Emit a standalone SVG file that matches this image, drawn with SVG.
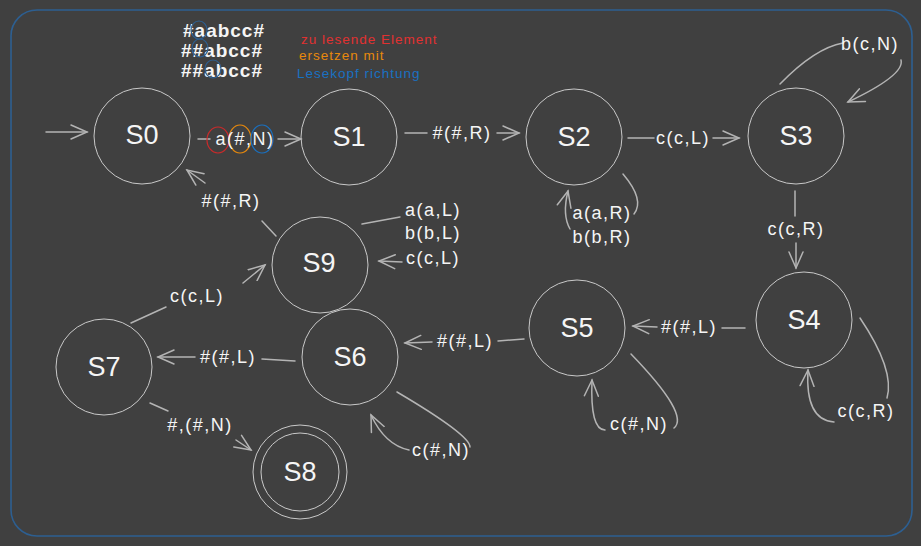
<svg xmlns="http://www.w3.org/2000/svg" width="921" height="546" viewBox="0 0 921 546">
<style>
.node{fill:none;stroke:#c9c9c9;stroke-width:1}
.nl{font-family:"Liberation Sans",Arial,sans-serif;font-size:27px;fill:#f5f5f5;text-anchor:middle;dominant-baseline:central}
.el{font-family:"Liberation Sans",Arial,sans-serif;font-size:18px;letter-spacing:1.5px;fill:#f5f5f5;text-anchor:middle;dominant-baseline:central}
.ed{fill:none;stroke:#b4b4b4;stroke-width:1.5;stroke-linecap:round}
.note{font-family:"Liberation Sans",Arial,sans-serif;font-size:13.5px;letter-spacing:1px}
.tape{font-family:"Liberation Sans",Arial,sans-serif;font-size:19px;font-weight:bold;letter-spacing:1px;fill:#f5f5f5}
</style>
<defs>
<marker id="ah" markerUnits="userSpaceOnUse" markerWidth="20" markerHeight="16" refX="17" refY="8" orient="auto">
<path d="M1,1 L17,8 L1,15" fill="none" stroke="#b4b4b4" stroke-width="1.5" stroke-linecap="round"/>
</marker>
</defs>
<rect width="921" height="546" fill="#404040"/>
<rect x="11" y="10" width="901" height="526" rx="26" fill="none" stroke="#2d5f91" stroke-width="1.6"/>

<g id="legend">
<text class="tape" x="183" y="37">#aabcc#</text>
<text class="tape" x="181" y="57">##abcc#</text>
<text class="tape" x="181" y="77">##abcc#</text>
<ellipse cx="199" cy="30" rx="8" ry="9" fill="none" stroke="#2d5f91" stroke-width="1.2"/>
<ellipse cx="200" cy="48" rx="8" ry="9" fill="none" stroke="#2d5f91" stroke-width="1.2"/>
<ellipse cx="213" cy="69" rx="8" ry="9" fill="none" stroke="#2d5f91" stroke-width="1.2"/>
<text class="note" x="301" y="44" fill="#e03131">zu lesende Element</text>
<text class="note" x="299" y="60" fill="#e8890c">ersetzen mit</text>
<text class="note" x="297" y="78" fill="#1971c2">Lesekopf richtung</text>
</g>

<g id="S0"><circle class="node" cx="142" cy="136" r="48"/><text class="nl" x="142" y="135">S0</text></g>
<g id="S1"><circle class="node" cx="349" cy="137" r="48"/><text class="nl" x="349" y="137">S1</text></g>
<g id="S2"><circle class="node" cx="574" cy="137" r="48"/><text class="nl" x="574" y="137">S2</text></g>
<g id="S3"><circle class="node" cx="796" cy="136" r="48"/><text class="nl" x="796" y="136">S3</text></g>
<g id="S4"><circle class="node" cx="804" cy="320" r="48"/><text class="nl" x="804" y="320">S4</text></g>
<g id="S5"><circle class="node" cx="577" cy="328" r="48"/><text class="nl" x="577" y="328">S5</text></g>
<g id="S6"><circle class="node" cx="350" cy="357" r="48"/><text class="nl" x="350" y="357">S6</text></g>
<g id="S7"><circle class="node" cx="104" cy="367" r="48"/><text class="nl" x="104" y="367">S7</text></g>
<g id="S8"><circle class="node" cx="300" cy="472" r="47"/><circle class="node" cx="300" cy="472" r="39"/><text class="nl" x="300" y="472">S8</text></g>
<g id="S9"><circle class="node" cx="320" cy="265" r="48"/><text class="nl" x="319" y="263">S9</text></g>

<g id="connectors">
<!-- start -->
<path class="ed" d="M46,132 L87,132" marker-end="url(#ah)"/>
<!-- S0 -> S1 -->
<path class="ed" d="M198,139 L210,139"/>
<path class="ed" d="M278,139 L301,139" marker-end="url(#ah)"/>
<ellipse cx="218" cy="140" rx="11" ry="13" fill="none" stroke="#c92a2a" stroke-width="1.2"/>
<ellipse cx="240" cy="139" rx="11" ry="14" fill="none" stroke="#e8890c" stroke-width="1.2"/>
<ellipse cx="262" cy="139" rx="11" ry="14" fill="none" stroke="#1971c2" stroke-width="1.2"/>
<text class="el" x="245" y="139">a(#,N)</text>
<!-- S1 -> S2 -->
<path class="ed" d="M405,133 L427,133"/>
<path class="ed" d="M497,133 L519,133" marker-end="url(#ah)"/>
<text class="el" x="462" y="133">#(#,R)</text>
<!-- S2 -> S3 -->
<path class="ed" d="M628,138 L654,138"/>
<path class="ed" d="M713,138 L739,138" marker-end="url(#ah)"/>
<text class="el" x="683" y="138">c(c,L)</text>
<!-- S3 loop -->
<path class="ed" d="M780,84 Q815,48 843,43"/>
<path class="ed" d="M901,60 Q905,75 848,102" marker-end="url(#ah)"/>
<text class="el" x="870" y="44">b(c,N)</text>
<!-- S3 -> S4 -->
<path class="ed" d="M795,191 L795,216"/>
<path class="ed" d="M796,243 L796,268" marker-end="url(#ah)"/>
<text class="el" x="796" y="229">c(c,R)</text>
<!-- S2 loop -->
<path class="ed" d="M623,174 Q645,200 634,214"/>
<path class="ed" d="M570,229 Q562,215 568,191" marker-end="url(#ah)"/>
<text class="el" x="602" y="213">a(a,R)</text>
<text class="el" x="602" y="237">b(b,R)</text>
<!-- S4 loop -->
<path class="ed" d="M860,318 Q895,370 887,398"/>
<path class="ed" d="M834,422 Q805,420 808,370" marker-end="url(#ah)"/>
<text class="el" x="866" y="411">c(c,R)</text>
<!-- S4 -> S5 -->
<path class="ed" d="M745,328 L722,328"/>
<path class="ed" d="M657,327 L633,326" marker-end="url(#ah)"/>
<text class="el" x="689" y="327">#(#,L)</text>
<!-- S5 loop -->
<path class="ed" d="M631,354 Q690,415 674,428"/>
<path class="ed" d="M605,430 Q590,430 592,380" marker-end="url(#ah)"/>
<text class="el" x="639" y="424">c(#,N)</text>
<!-- S5 -> S6 -->
<path class="ed" d="M524,339 L498,341"/>
<path class="ed" d="M432,342 L405,343" marker-end="url(#ah)"/>
<text class="el" x="465" y="341">#(#,L)</text>
<!-- S6 loop -->
<path class="ed" d="M397,392 Q470,435 470,447"/>
<path class="ed" d="M409,450 Q385,445 371,415" marker-end="url(#ah)"/>
<text class="el" x="441" y="450">c(#,N)</text>
<!-- S6 -> S7 -->
<path class="ed" d="M295,361 L262,359"/>
<path class="ed" d="M195,357 L158,357" marker-end="url(#ah)"/>
<text class="el" x="228" y="357">#(#,L)</text>
<!-- S7 -> S9 -->
<path class="ed" d="M131,323 L166,307"/>
<path class="ed" d="M243,283 L265,265" marker-end="url(#ah)"/>
<text class="el" x="197" y="296">c(c,L)</text>
<!-- S7 -> S8 -->
<path class="ed" d="M150,403 L168,411"/>
<path class="ed" d="M236,440 L251,450" marker-end="url(#ah)"/>
<text class="el" x="200" y="425">#,(#,N)</text>
<!-- S9 -> S0 -->
<path class="ed" d="M276,236 L262,221"/>
<path class="ed" d="M205,183 L187,170" marker-end="url(#ah)"/>
<text class="el" x="231" y="201">#(#,R)</text>
<!-- S9 loop -->
<path class="ed" d="M362,224 L400,217"/>
<path class="ed" d="M402,262 L379,261" marker-end="url(#ah)"/>
<text class="el" x="433" y="210">a(a,L)</text>
<text class="el" x="433" y="233">b(b,L)</text>
<text class="el" x="433" y="258">c(c,L)</text>
</g>
</svg>
